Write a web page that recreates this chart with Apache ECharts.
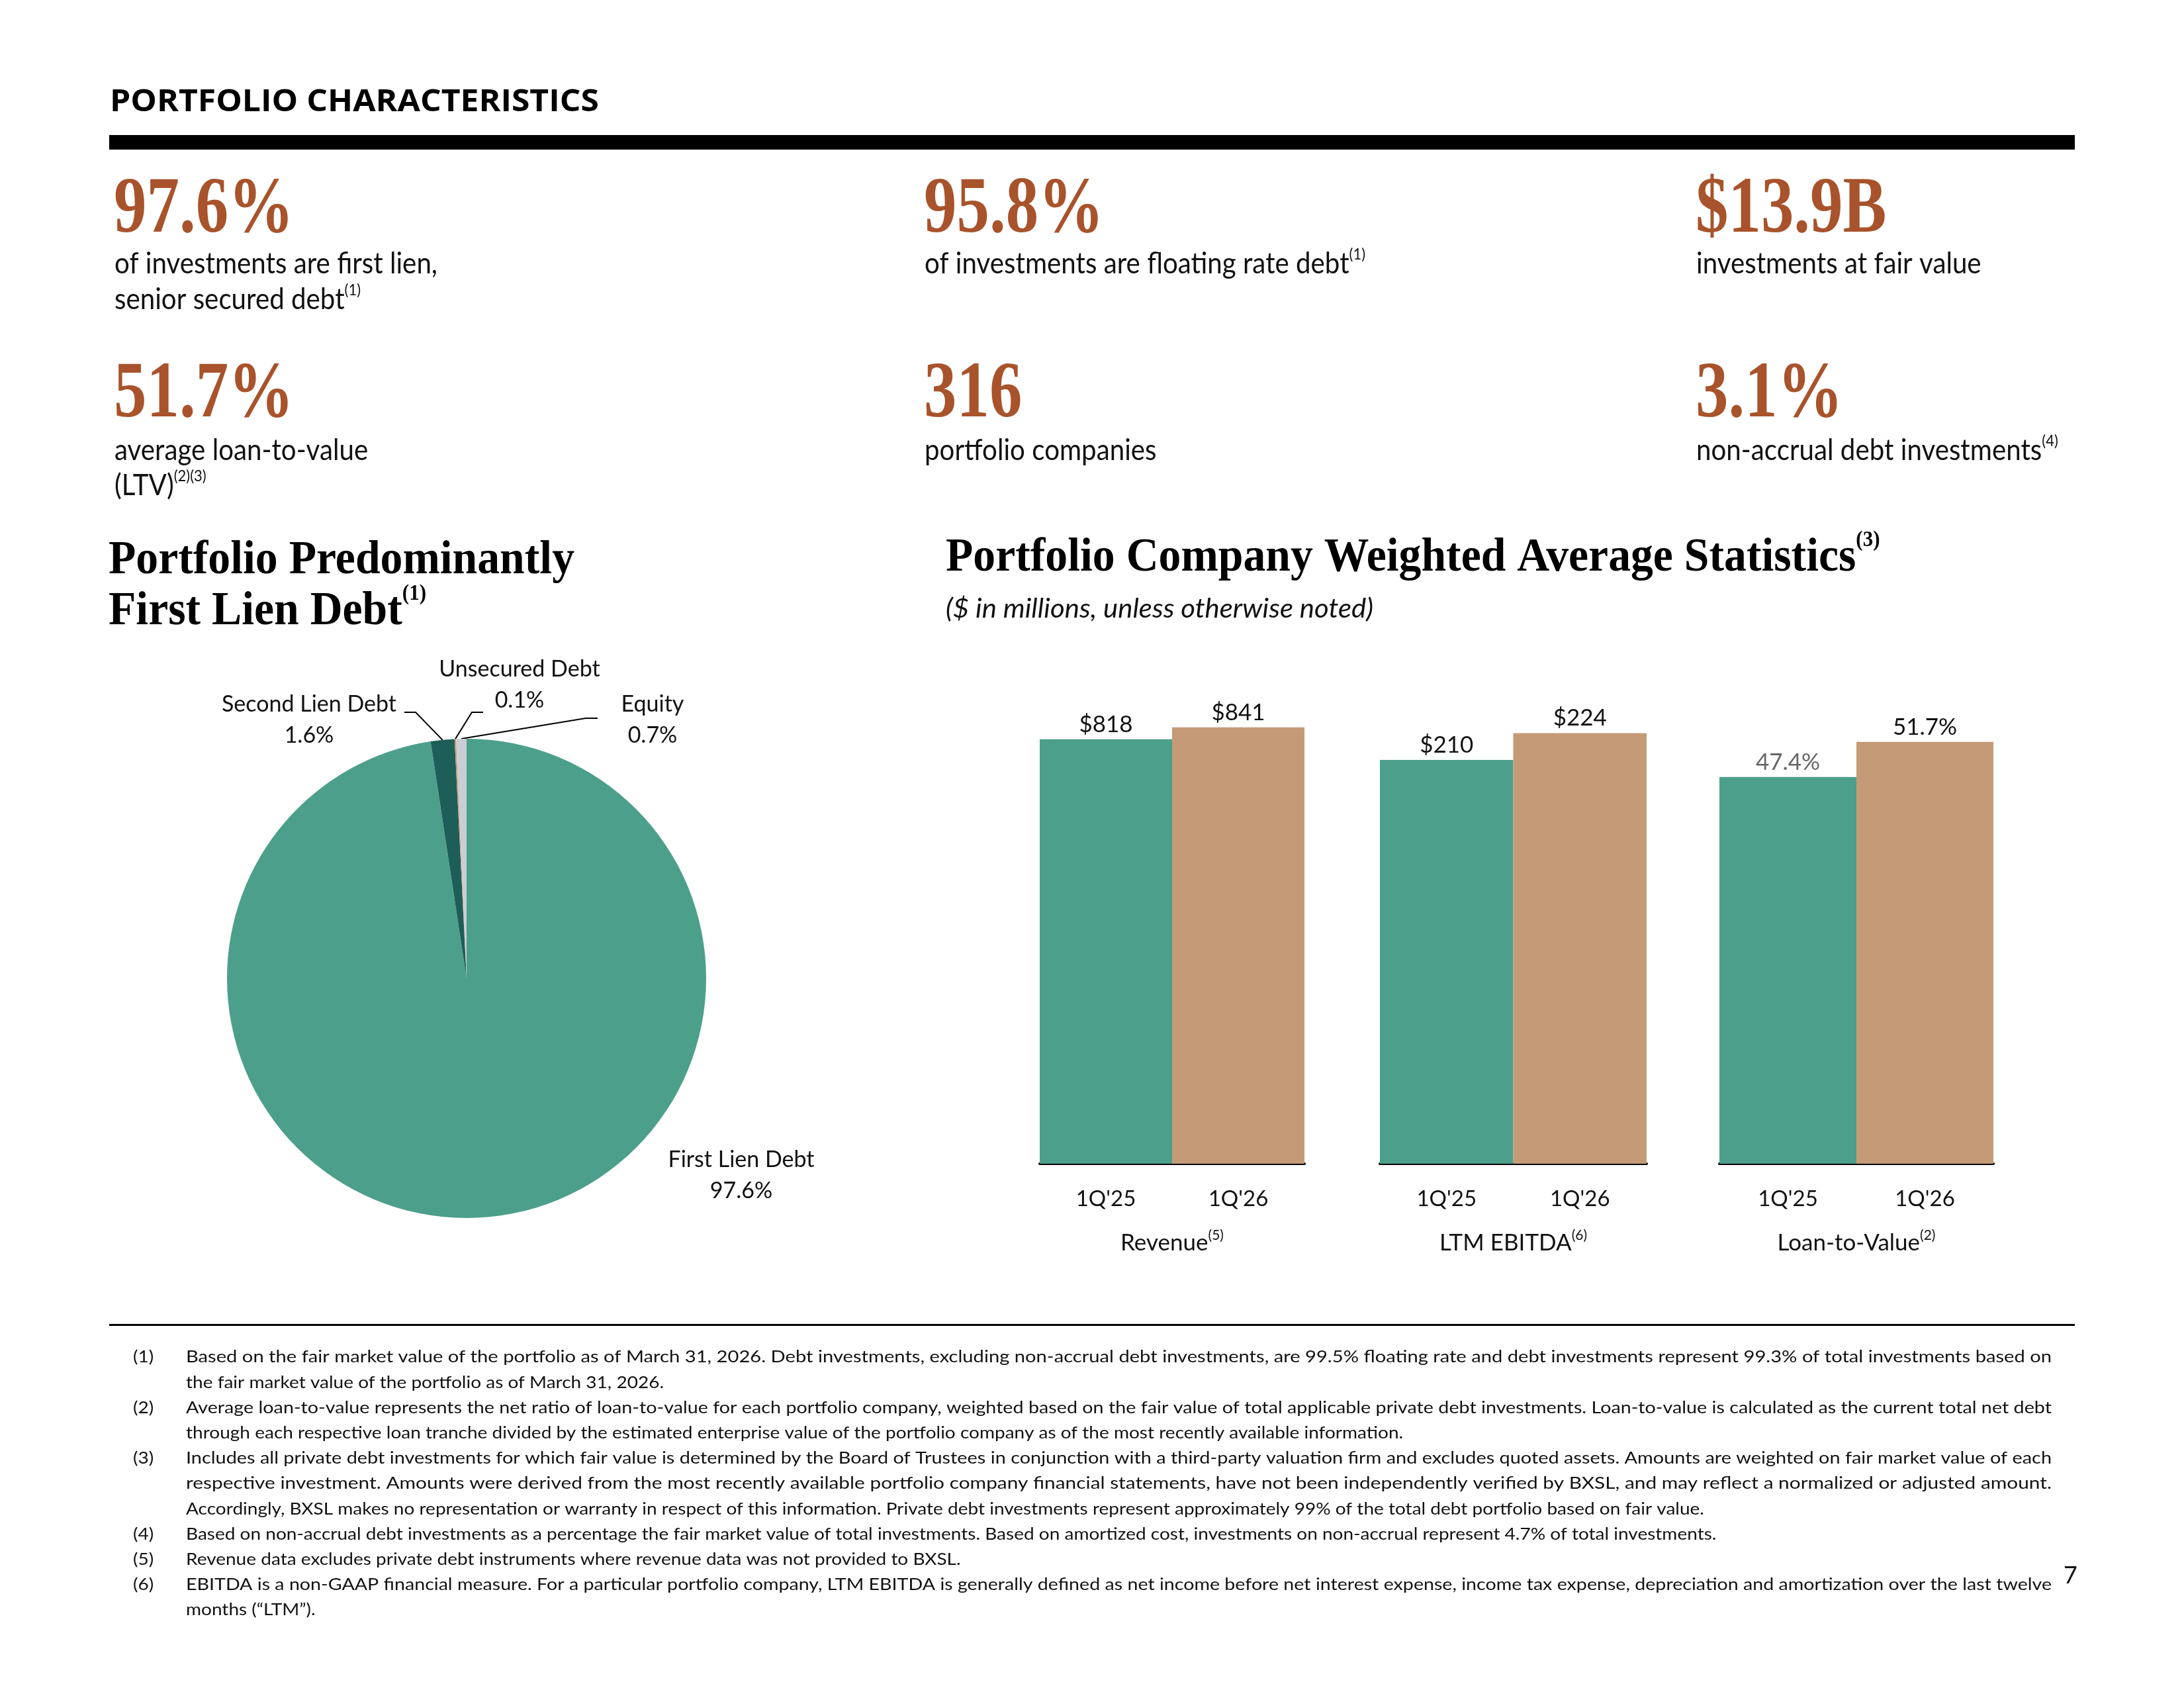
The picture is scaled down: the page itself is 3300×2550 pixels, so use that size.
<!DOCTYPE html>
<html>
<head>
<meta charset="utf-8">
<title>Portfolio Characteristics</title>
<script src="https://cdn.jsdelivr.net/npm/echarts@6.0.0/dist/echarts.min.js"></script>
<style>
  html, body { margin: 0; padding: 0; background: #fff; }
  #chart { width: 3300px; height: 2550px; }
</style>
</head>
<body>
<div id="chart"></div>
<script>
// ---- data ----
var pieNames = ['First Lien Debt', 'Second Lien Debt', 'Unsecured Debt', 'Equity'];
var pieValues = [97.6, 1.6, 0.1, 0.7];

var periods = ["1Q'25", "1Q'26"];
var revenue = [818, 841];
var ebitda = [210, 224];
var ltv = [47.4, 51.7];
var groupNames = ['Revenue{s|(5)}', 'LTM EBITDA{s|(6)}', 'Loan-to-Value{s|(2)}'];

var kpiValues = ['97.6%', '95.8%', '$13.9B', '51.7%', '316', '3.1%'];
var kpiLabels = [
  ['of investments are first lien,', 'senior secured debt{s|(1)}'],
  ['of investments are floating rate debt{s|(1)}'],
  ['investments at fair value'],
  ['average loan-to-value', '(LTV){s|(2)(3)}'],
  ['portfolio companies'],
  ['non-accrual debt investments{s|(4)}']
];

var notes = [
  ['Based on the fair market value of the portfolio as of March 31, 2026. Debt investments, excluding non-accrual debt investments, are 99.5% floating rate and debt investments represent 99.3% of total investments based on',
   'the fair market value of the portfolio as of March 31, 2026.'],
  ['Average loan-to-value represents the net ratio of loan-to-value for each portfolio company, weighted based on the fair value of total applicable private debt investments. Loan-to-value is calculated as the current total net debt',
   'through each respective loan tranche divided by the estimated enterprise value of the portfolio company as of the most recently available information.'],
  ['Includes all private debt investments for which fair value is determined by the Board of Trustees in conjunction with a third-party valuation firm and excludes quoted assets. Amounts are weighted on fair market value of each',
   'respective investment. Amounts were derived from the most recently available portfolio company financial statements, have not been independently verified by BXSL, and may reflect a normalized or adjusted amount.',
   'Accordingly, BXSL makes no representation or warranty in respect of this information. Private debt investments represent approximately 99% of the total debt portfolio based on fair value.'],
  ['Based on non-accrual debt investments as a percentage the fair market value of total investments. Based on amortized cost, investments on non-accrual represent 4.7% of total investments.'],
  ['Revenue data excludes private debt instruments where revenue data was not provided to BXSL.'],
  ['EBITDA is a non-GAAP financial measure. For a particular portfolio company, LTM EBITDA is generally defined as net income before net interest expense, income tax expense, depreciation and amortization over the last twelve',
   'months (\u201cLTM\u201d).']
];

// ---- look ----
var TEAL = '#4c9f8b', TAN = '#c49b76', DARK = '#1e5e59', GREY = '#c9ced5', RUST = '#a8532b', INK = '#111';
var pieColors = [TEAL, DARK, TAN, GREY];
var barColors = [TEAL, TAN];
var SANS = 'Lato', SERIF = 'Liberation Serif', HEAD = 'Open Sans';
var SW = 'normal';

var ctx = document.createElement('canvas').getContext('2d');
function fontStr(o) {
  return (o.style || 'normal') + ' ' + o.weight + ' ' + o.size + 'px "' + o.family + '"';
}
function measure(str, o) {
  ctx.font = fontStr(o);
  return ctx.measureText(str).width;
}

// text styles, squeezed to the widths seen in the reference
var stHead = { family: HEAD, weight: 'bold', size: 46, color: '#000', k: 0.30 };
stHead.sx = 739 / measure('PORTFOLIO CHARACTERISTICS', stHead);
var stNum = { family: SERIF, weight: 'bold', size: 120, color: RUST, k: 0.26 };
stNum.sx = 272 / measure('97.6%', stNum);
var stSub = { family: SANS, weight: SW, size: 44, color: INK, k: 0.31 };
stSub.sx = 488 / measure('of investments are first lien,', stSub);
var stTitle = { family: SERIF, weight: 'bold', size: 72, color: '#000', k: 0.26, sup: 0.46 };
stTitle.sx = 704 / measure('Portfolio Predominantly', stTitle);
var stItal = { family: SANS, weight: SW, style: 'italic', size: 40, color: INK, k: 0.31 };
stItal.sx = 646 / measure('($ in millions, unless otherwise noted)', stItal);
var stNote = { family: SANS, weight: SW, size: 25, color: INK, k: 0.31 };
stNote.sx = 722 / measure('the fair market value of the portfolio as of March 31, 2026.', stNote);

function txt(x, base, text, st, sx) {
  var sup = Math.round(st.size * (st.sup || 0.55));
  return {
    type: 'text', x: x, y: base - st.k * st.size, scaleX: sx || st.sx || 1, silent: true, z: 10,
    style: {
      text: text, fontFamily: st.family, fontSize: st.size, fontWeight: st.weight,
      fontStyle: st.style || 'normal', fill: st.color, align: 'left', verticalAlign: 'middle',
      lineHeight: Math.round(st.size * 1.2),
      rich: {
        s: { fontFamily: st.family, fontSize: sup, fontWeight: st.weight, fill: st.color,
             lineHeight: Math.round(sup * 1.3), verticalAlign: 'top' }
      }
    }
  };
}

var els = [];
els.push(txt(166, 169, 'PORTFOLIO CHARACTERISTICS', stHead));
els.push({ type: 'rect', shape: { x: 165, y: 204, width: 2970, height: 22 }, style: { fill: '#000' }, silent: true });

var kpiX = [172, 1396, 2562];
var kpiNumBase = [350, 629];
var kpiSubBase = [[412, 466], [694, 747]];
kpiValues.forEach(function (v, i) {
  var row = Math.floor(i / 3), col = i % 3;
  els.push(txt(kpiX[col], kpiNumBase[row], v, stNum));
  kpiLabels[i].forEach(function (line, j) {
    els.push(txt(kpiX[col] + 1, kpiSubBase[row][j], line, stSub));
  });
});

els.push(txt(164, 866, 'Portfolio Predominantly', stTitle));
els.push(txt(164, 943, 'First Lien Debt{s|(1)}', stTitle));
els.push(txt(1429, 862, 'Portfolio Company Weighted Average Statistics{s|(3)}', stTitle));
els.push(txt(1429, 932, '($ in millions, unless otherwise noted)', stItal));

els.push({ type: 'rect', shape: { x: 165, y: 2000, width: 2970, height: 3 }, style: { fill: '#000' }, silent: true });
var noteLine = 0;
notes.forEach(function (para, i) {
  para.forEach(function (line, j) {
    var base = 2058 + noteLine * 38.2;
    if (j === 0) els.push(txt(201, base, '(' + (i + 1) + ')', stNote));
    var last = j === para.length - 1;
    var sx = last ? stNote.sx : 2819 / measure(line, stNote);
    els.push(txt(281, base, line, stNote, sx));
    noteLine++;
  });
});
els.push(txt(3118, 2392, '7', { family: SANS, weight: SW, size: 36, color: INK, k: 0.31, sx: 1 }));

// ---- bars ----
var barSets = [revenue, ebitda, ltv];
var barFmt = ['${c}', '${c}', '{c}%'];
var yMax = [893, 241, 56.8];
var grids = [
  { left: 1571, top: 1058, width: 400, height: 700 },
  { left: 2085, top: 1058, width: 403, height: 700 },
  { left: 2598, top: 1058, width: 414, height: 700 }
];

var xAxes = [], yAxes = [], series = [];
barSets.forEach(function (vals, i) {
  xAxes.push({
    gridIndex: i, type: 'category', data: periods,
    axisLine: { lineStyle: { color: '#000', width: 4 } },
    axisTick: { show: false },
    axisLabel: { fontFamily: SANS, fontWeight: SW, fontSize: 33, color: INK, margin: 37 },
    name: groupNames[i], nameLocation: 'middle', nameGap: 98,
    nameTextStyle: {
      fontFamily: SANS, fontWeight: SW, fontSize: 35, color: INK, lineHeight: 44,
      rich: { s: { fontFamily: SANS, fontWeight: SW, fontSize: 21, color: INK, lineHeight: 24, verticalAlign: 'top' } }
    }
  });
  yAxes.push({ gridIndex: i, type: 'value', min: 0, max: yMax[i], show: false });
  series.push({
    type: 'bar', xAxisIndex: i, yAxisIndex: i, barCategoryGap: '0%', silent: true,
    data: vals.map(function (v, j) {
      var item = { value: v, itemStyle: { color: barColors[j] } };
      if (i === 2 && j === 0) item.label = { color: '#666' };
      return item;
    }),
    label: {
      show: true, position: 'top', distance: 5, formatter: barFmt[i],
      fontFamily: SANS, fontWeight: SW, fontSize: 35, color: INK
    }
  });
});

// ---- pie ----
var pieLabelAt = [[1120, 1776], [467, 1088], [785, 1035], [986, 1088]];
var pieLineAt = [null, [[628, 1076], [611, 1076]], [[713, 1076], [730, 1076]], [[885, 1085], [903, 1085]]];
var pieCenter = [705, 1478], pieR = 362;
var pieTotal = pieValues.reduce(function (a, b) { return a + b; }, 0);

function sliceEdge(i) {
  var before = 0;
  for (var k = 0; k < i; k++) before += pieValues[k];
  var a = 2 * Math.PI * (before + pieValues[i] / 2) / pieTotal;
  return [pieCenter[0] + pieR * Math.sin(a), pieCenter[1] - pieR * Math.cos(a)];
}

series.push({
  type: 'pie', center: pieCenter, radius: pieR, startAngle: 90, clockwise: true,
  avoidLabelOverlap: false, silent: true,
  data: pieNames.map(function (n, i) {
    return { name: n, value: pieValues[i], itemStyle: { color: pieColors[i] }, labelLine: { show: i > 0 } };
  }),
  label: {
    show: true, formatter: '{b}\n{c}%', fontFamily: SANS, fontWeight: SW, fontSize: 34,
    lineHeight: 47, color: INK, align: 'center'
  },
  labelLine: { show: true, length: 10, length2: 10, lineStyle: { color: '#000', width: 2 } },
  labelLayout: function (p) {
    var i = p.dataIndex;
    var out = { x: pieLabelAt[i][0], y: pieLabelAt[i][1], align: 'center', verticalAlign: 'middle' };
    if (pieLineAt[i]) {
      var start = (p.labelLinePoints && p.labelLinePoints[0]) || sliceEdge(i);
      out.labelLinePoints = [start, pieLineAt[i][0], pieLineAt[i][1]];
    }
    return out;
  }
});

var myChart = echarts.init(document.getElementById('chart'));
myChart.setOption({
  animation: false,
  backgroundColor: '#fff',
  graphic: { elements: els },
  grid: grids,
  xAxis: xAxes,
  yAxis: yAxes,
  series: series
});
</script>
</body>
</html>
